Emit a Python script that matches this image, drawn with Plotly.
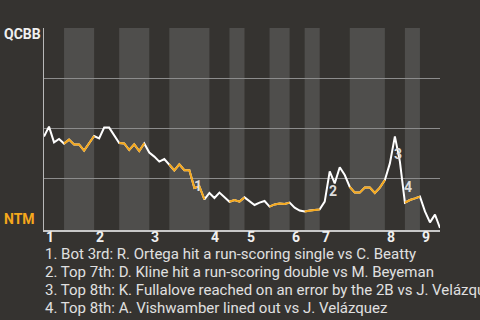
import plotly.graph_objects as go

# Win probability (0 = NTM, 1 = QCBB) per event index
win_prob = [0.457, 0.507, 0.428, 0.445, 0.422, 0.442, 0.418, 0.418, 0.387, 0.423,
            0.460, 0.448, 0.502, 0.502, 0.462, 0.425, 0.423, 0.390, 0.418, 0.385,
            0.423, 0.377, 0.357, 0.332, 0.345, 0.318, 0.288, 0.318, 0.289, 0.289,
            0.200, 0.208, 0.143, 0.175, 0.150, 0.177, 0.153, 0.131, 0.140, 0.132,
            0.153, 0.132, 0.115, 0.127, 0.135, 0.107, 0.118, 0.123, 0.120, 0.127,
            0.102, 0.087, 0.082, 0.087, 0.090, 0.093, 0.132, 0.283, 0.223, 0.304,
            0.265, 0.205, 0.177, 0.177, 0.202, 0.202, 0.175, 0.202, 0.240, 0.323,
            0.458, 0.332, 0.127, 0.140, 0.148, 0.157, 0.083, 0.028, 0.067, 0.000]
events = list(range(len(win_prob)))

# Bottom-half (NTM batting) bands and orange segments, in event-index units
bottom_bands = [(4, 10), (15, 21), (25, 33), (37, 40), (45, 49), (52, 55), (61, 68), (72, 75)]
orange_segments = [(4, 10), (15, 20), (25, 32), (37, 40), (45, 49), (52, 55), (61, 68), (72, 75)]

inning_labels = ["1", "2", "3", "4", "5", "6", "7", "8", "9"]
inning_starts = [0, 10, 21, 33, 40, 49, 55, 68, 75]

marker_labels = ["1", "2", "3", "4"]
marker_x = [30.7, 57.6, 70.6, 72.6]
marker_y = [0.21, 0.183, 0.37, 0.203]

notes = [
    "1. Bot 3rd: R. Ortega hit a run-scoring single vs C. Beatty",
    "2. Top 7th: D. Kline hit a run-scoring double vs M. Beyeman",
    "3. Top 8th: K. Fullalove reached on an error by the 2B vs J. Velázquez",
    "4. Top 8th: A. Vishwamber lined out vs J. Velázquez",
]

BG = "#353330"
BAND = "#4f4e4c"
ORANGE = "#f5a81c"
FONT = "Roboto"

fig = go.Figure()

fig.add_trace(go.Scatter(x=events, y=win_prob, mode="lines",
                         line=dict(color="white", width=2), hoverinfo="skip"))

ox, oy = [], []
for a, b in orange_segments:
    ox += events[a:b + 1] + [None]
    oy += win_prob[a:b + 1] + [None]
fig.add_trace(go.Scatter(x=ox, y=oy, mode="lines",
                         line=dict(color=ORANGE, width=2), hoverinfo="skip"))

shapes = []
for a, b in bottom_bands:
    shapes.append(dict(type="rect", xref="x", yref="paper", x0=a, x1=b, y0=0, y1=1,
                       fillcolor=BAND, line=dict(width=0), layer="below"))

annotations = []
for lab, xs in zip(inning_labels, inning_starts):
    annotations.append(dict(text=lab, x=xs, y=0, xref="x", yref="paper",
                            xanchor="left", yanchor="top", yshift=3, showarrow=False,
                            font=dict(family=FONT, size=14, color="#f0f0f0", weight="bold")))
for lab, xm, ym in zip(marker_labels, marker_x, marker_y):
    annotations.append(dict(text=lab, x=xm, y=ym, xref="x", yref="y",
                            xanchor="center", yanchor="middle", showarrow=False,
                            font=dict(family=FONT, size=14, color="#dddddd", weight="bold")))
annotations.append(dict(text="QCBB", x=0, y=1, xref="paper", yref="paper",
                        xanchor="left", yanchor="middle", xshift=-42, yshift=-6,
                        showarrow=False,
                        font=dict(family=FONT, size=14, color="#f0f0f0", weight="bold")))
annotations.append(dict(text="NTM", x=0, y=0, xref="paper", yref="paper",
                        xanchor="left", yanchor="middle", xshift=-42, yshift=11,
                        showarrow=False,
                        font=dict(family=FONT, size=14, color=ORANGE, weight="bold")))
for k, line in enumerate(notes):
    annotations.append(dict(text=line, x=0, y=0, xref="paper", yref="paper",
                            xanchor="left", yanchor="middle", align="left",
                            xshift=-1, yshift=-24 - 18 * k, showarrow=False,
                            font=dict(family=FONT, size=15, color="#e0e0e0")))

fig.update_layout(
    width=480, height=320,
    margin=dict(l=44, r=40, t=28, b=90),
    paper_bgcolor=BG, plot_bgcolor=BG,
    showlegend=False,
    shapes=shapes, annotations=annotations,
    xaxis=dict(range=[0, 79], showgrid=False, zeroline=False, showticklabels=False,
               showline=True, linecolor="#c8c8c8", linewidth=2, fixedrange=True),
    yaxis=dict(range=[-0.01, 1.0], tickvals=[0.25, 0.5, 0.75, 1.0], showticklabels=False,
               gridcolor="#8c8c8c", gridwidth=1, zeroline=False,
               showline=True, linecolor="#b8b8b8", linewidth=1, fixedrange=True),
)

fig.write_html("out.html", config={"displayModeBar": False})
